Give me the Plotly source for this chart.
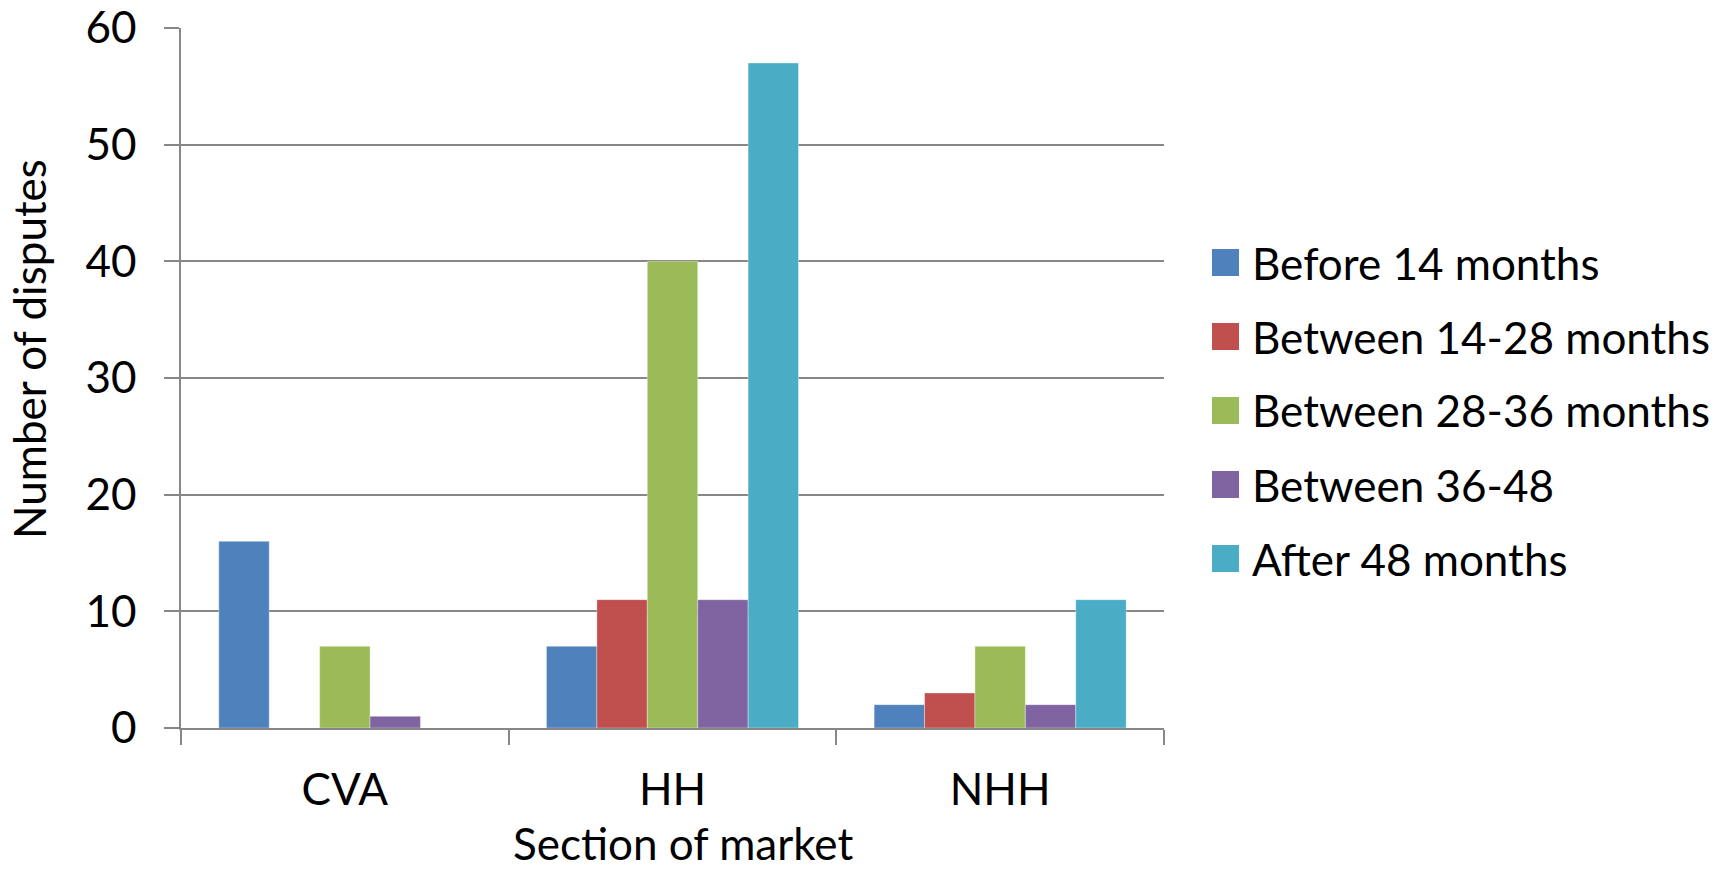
import plotly.graph_objects as go

# Disputes by section of market and age band
sections = ["CVA", "HH", "NHH"]
series_names = [
    "Before 14 months",
    "Between 14-28 months",
    "Between 28-36 months",
    "Between 36-48",
    "After 48 months",
]
before_14 = [16, 7, 2]
between_14_28 = [0, 11, 3]
between_28_36 = [7, 40, 7]
between_36_48 = [1, 11, 2]
after_48 = [0, 57, 11]
y_ticks = [0, 10, 20, 30, 40, 50, 60]

series_values = [before_14, between_14_28, between_28_36, between_36_48, after_48]
colors = ["#4F81BD", "#C0504D", "#9BBB59", "#8064A2", "#4BACC6"]

W, H = 1727, 870
L, R, T, B = 181, 563, 28, 142
FONT = "Lato, Open Sans, sans-serif"
AXIS_GREY = "#878787"
FS = 44


def px_x(px):
    return (px - L) / (W - L - R)


def px_y(py):
    return 1 - (py - T) / (H - T - B)


fig = go.Figure()
for name, vals, col in zip(series_names, series_values, colors):
    fig.add_trace(go.Bar(
        x=sections, y=vals, name=name,
        marker=dict(color=col, line=dict(color="rgba(255,255,255,0.35)", width=1)),
        showlegend=False,
    ))

# Legend drawn as square swatches with labels
shapes = []
annotations = []
sw = 27
for i, (name, col) in enumerate(zip(series_names, colors)):
    cy = 262.5 + 74.0 * i
    shapes.append(dict(
        type="rect", xref="paper", yref="paper",
        x0=px_x(1212), x1=px_x(1212 + sw),
        y0=px_y(cy + sw / 2), y1=px_y(cy - sw / 2),
        fillcolor=col, line=dict(width=0),
    ))
    annotations.append(dict(
        text=name, xref="paper", yref="paper",
        x=px_x(1250), y=px_y(cy), xanchor="left", yanchor="middle",
        showarrow=False, font=dict(family=FONT, size=FS, color="black"),
    ))

# Axis titles
annotations.append(dict(
    text="Number of disputes", xref="paper", yref="paper",
    x=px_x(29), y=px_y(349), xanchor="center", yanchor="middle",
    textangle=-90, showarrow=False,
    font=dict(family=FONT, size=FS, color="black"),
))
annotations.append(dict(
    text="Section of market", xref="paper", yref="paper",
    x=px_x(683), y=px_y(870), xanchor="center", yanchor="bottom",
    showarrow=False, borderpad=0,
    font=dict(family=FONT, size=FS, color="black"),
))

fig.update_layout(
    width=W, height=H,
    margin=dict(l=L, r=R, t=T, b=B, pad=0, autoexpand=False),
    paper_bgcolor="white", plot_bgcolor="white",
    barmode="group", bargap=1.5 / 6.5, bargroupgap=0,
    font=dict(family=FONT, size=FS, color="black"),
    shapes=shapes, annotations=annotations,
    xaxis=dict(
        automargin=False,
        showline=True, linecolor=AXIS_GREY, linewidth=1.5,
        ticks="outside", tickson="boundaries", ticklen=15,
        tickcolor=AXIS_GREY, tickwidth=1.5,
        tickfont=dict(family=FONT, size=FS, color="black"),
        ticklabelstandoff=22,
        showgrid=False, zeroline=False, fixedrange=True,
    ),
    yaxis=dict(
        automargin=False,
        range=[0, 60], tickvals=y_ticks,
        showline=True, linecolor=AXIS_GREY, linewidth=1.5,
        ticks="outside", ticklen=15, tickcolor=AXIS_GREY, tickwidth=1.5,
        showgrid=True, gridcolor=AXIS_GREY, gridwidth=1.5,
        zeroline=False,
        tickfont=dict(family=FONT, size=FS, color="black"),
        ticklabelstandoff=19, fixedrange=True,
    ),
)

fig.write_html("out.html")
